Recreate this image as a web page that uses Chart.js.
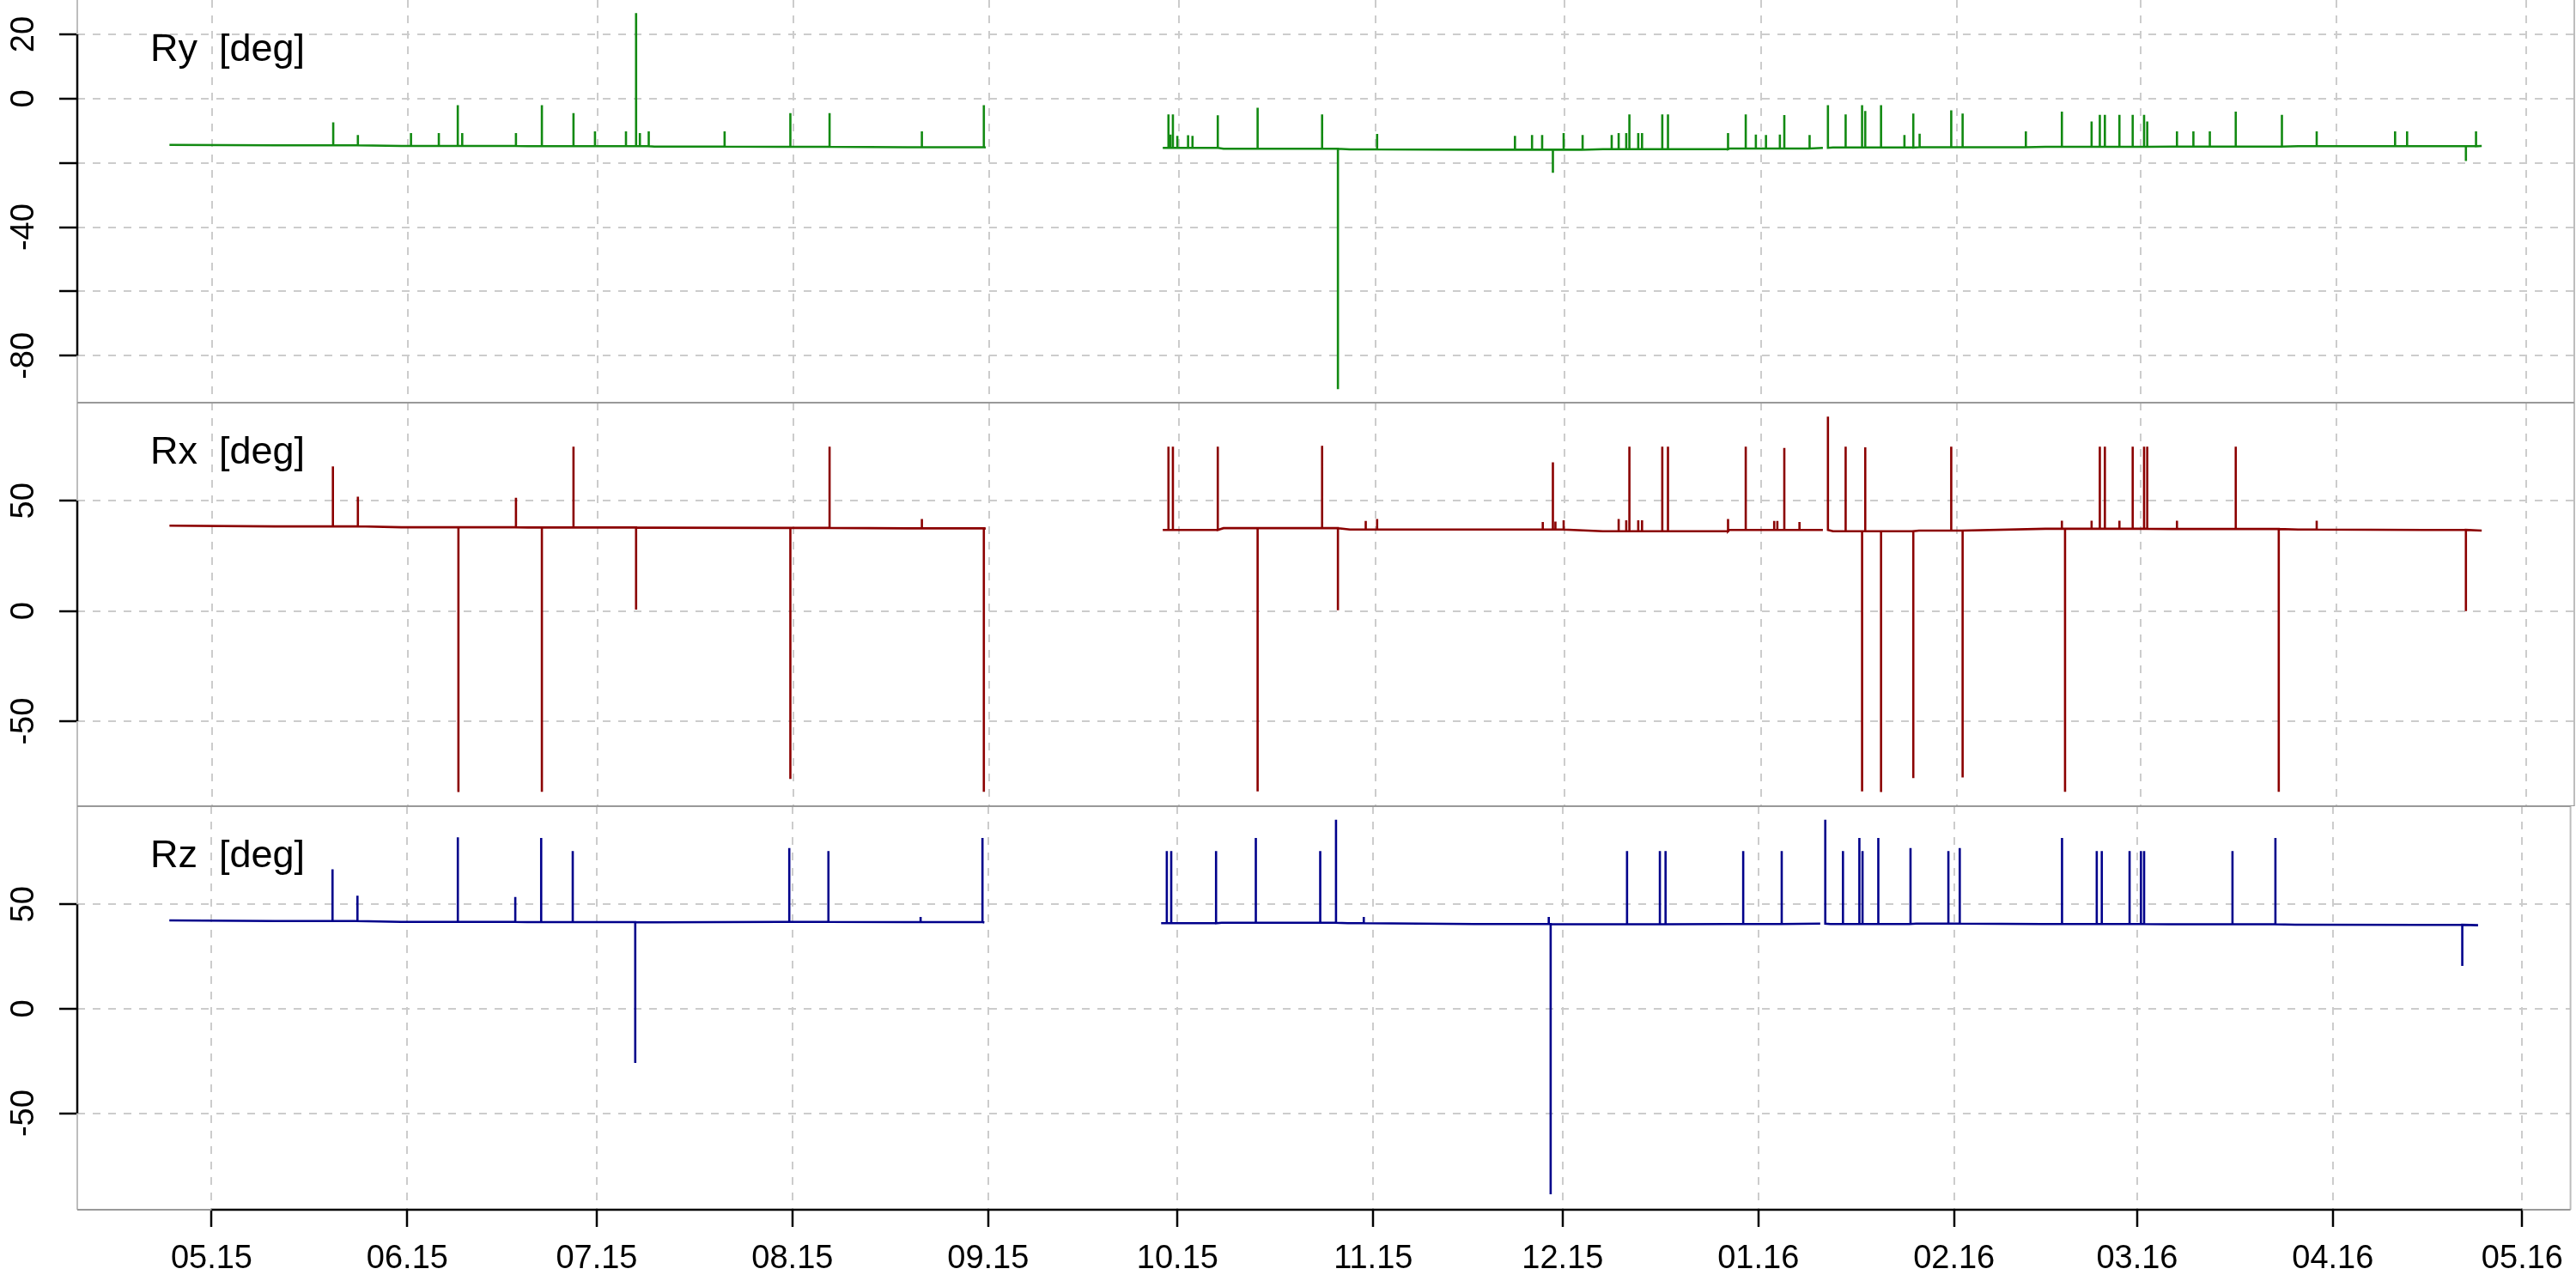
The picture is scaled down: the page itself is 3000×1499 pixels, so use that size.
<!DOCTYPE html>
<html><head><meta charset="utf-8">
<script src="https://cdn.jsdelivr.net/npm/chart.js@4.4.0/dist/chart.umd.min.js"></script>
<style>
html,body{margin:0;padding:0;background:#fff;}
#wrap{position:relative;width:3000px;height:1499px;background:#fff;}
canvas{position:absolute;left:0;}
</style></head><body>
<div id="wrap">
<canvas id="c1" width="3000" height="469" style="top:0px;width:3000px;height:469px"></canvas>
<canvas id="c2" width="3000" height="470" style="top:469px;width:3000px;height:470px"></canvas>
<canvas id="c3" width="3000" height="560" style="top:939px;width:3000px;height:560px"></canvas>
</div>
<script>
// x values are days since 2015-05-01
const monthTickDays   = [0, 31, 61, 92, 123, 153, 184, 214, 245, 276, 305, 336, 366];
const monthTickLabels = ['05.15','06.15','07.15','08.15','09.15','10.15','11.15','12.15','01.16','02.16','03.16','04.16','05.16'];

const ryTicks = [20, 0, -20, -40, -60, -80];
const ryTickLabels = ['20', '0', '', '-40', '', '-80'];
const rxTicks = [50, 0, -50];
const rxTickLabels = ['50', '0', '-50'];
const rzTicks = [50, 0, -50];
const rzTickLabels = ['50', '0', '-50'];

// slowly varying baseline (null = no data)
const baseDays = [-6.7, 10, 30, 50, 70, 90, 110, 122.4, 136, 150.4, 160, 180, 200, 220, 240, 254.8, 255.2, 256.4, 270, 290, 310, 330, 350, 359];
const ryBase = [-14.4, -14.5, -14.7, -14.8, -14.9, -15.0, -15.1, -15.2, null, -15.3, -15.6, -15.8, -15.9, -15.7, -15.5, -15.3, null, -15.2, -15.1, -15.0, -14.9, -14.8, -14.8, -14.7];
const rxBase = [38.7, 38.4, 38.0, 37.9, 37.8, 37.7, 37.5, 37.4, null, 36.8, 37.6, 37.0, 37.0, 36.2, 36.8, 36.8, null, 36.2, 36.5, 37.3, 37.2, 37.0, 36.8, 36.5];
const rzBase = [42.3, 42.0, 41.6, 41.5, 41.4, 41.6, 41.5, 41.3, null, 41.0, 41.2, 41.0, 40.6, 40.5, 40.6, 40.8, null, 40.6, 40.8, 40.6, 40.5, 40.3, 40.2, 40.0];

// single-sample excursions: day and extreme value
const rySpikeDays = [19.2, 23.1, 31.5, 35.9, 38.9, 39.6, 48.1, 52.2, 57.2, 60.6, 65.5, 67.1, 67.7, 69.1, 81.1, 91.5, 97.7, 112.3, 122.1,
  151.3, 151.6, 152.0, 152.7, 154.4, 155.1, 159.1, 165.4, 175.6, 178.1, 184.3, 206.1, 208.8, 210.4, 212.1, 213.8, 216.8, 221.4, 222.5, 223.7, 224.2, 225.6, 226.2, 229.4, 230.3, 239.8, 242.6, 244.2, 245.8, 248.0, 248.7, 252.7, 255.6, 258.4, 261.0, 261.5, 264.0, 267.7, 269.1, 270.1, 275.1, 276.9,
  286.9, 292.6, 297.3, 298.6, 299.4, 301.7, 303.8, 305.6, 306.1, 310.8, 313.4, 316.0, 320.1, 327.4, 332.9, 345.3, 347.2, 356.5, 358.1];
const rySpikeVals = [-7.4, -11.3, -10.7, -10.7, -2.0, -10.7, -10.7, -2.0, -4.5, -10.2, -10.2, 26.6, -10.7, -10.2, -10.2, -4.5, -4.5, -10.2, -2.0,
  -4.9, -11.2, -4.9, -11.6, -11.4, -11.6, -5.2, -2.8, -4.9, -90.4, -11.0, -11.6, -11.3, -11.3, -23.1, -10.7, -11.3, -11.3, -10.7, -10.7, -4.9, -10.7, -10.7, -4.9, -4.9, -10.7, -4.9, -11.2, -11.3, -11.2, -5.1, -11.3, -2.0, -4.9, -2.0, -3.8, -2.0, -11.3, -4.6, -10.9, -3.6, -4.6,
  -10.2, -4.0, -7.1, -5.0, -5.0, -5.0, -5.0, -5.0, -7.1, -10.2, -10.2, -10.2, -4.0, -5.0, -10.2, -10.2, -10.2, -19.4, -10.2];

const rxSpikeDays = [19.15, 23.1, 39.0, 48.1, 52.2, 57.2, 67.1, 91.5, 97.7, 112.3, 122.1,
  151.3, 152.0, 159.1, 165.4, 175.6, 178.1, 182.5, 184.3, 210.5, 212.1, 212.5, 213.8, 222.5, 223.7, 224.2, 225.6, 226.2, 229.4, 230.3, 239.8, 242.6, 247.1, 247.6, 248.7, 251.1, 255.6, 258.4, 261.0, 261.5, 264.0, 269.1, 275.1, 276.9,
  292.6, 293.1, 297.3, 298.6, 299.4, 301.7, 303.8, 305.6, 306.1, 310.8, 320.1, 326.9, 332.9, 356.5];
const rxSpikeVals = [65.6, 51.9, -82.1, 51.4, -82.0, 74.5, 0.7, -76.1, 74.5, 41.7, -82.0,
  74.5, 74.5, 74.5, -81.8, 74.9, 0.4, 40.9, 41.7, 40.4, 67.4, 40.6, 41.2, 41.7, 41.2, 74.5, 41.2, 41.2, 74.5, 74.5, 41.7, 74.5, 40.9, 40.9, 74.0, 40.4, 88.2, 74.5, -81.8, 74.3, -82.1, -75.7, 74.5, -75.5,
  41.0, -82.0, 41.0, 74.5, 74.5, 41.0, 74.5, 74.5, 74.5, 41.0, 74.5, -82.0, 41.0, 0.0];

const rzSpikeDays = [19.15, 23.1, 39.0, 48.1, 52.2, 57.2, 67.1, 91.5, 97.7, 112.3, 122.1,
  151.3, 152.0, 159.1, 165.4, 175.6, 178.1, 182.5, 211.8, 212.1, 224.2, 229.4, 230.3, 242.6, 248.7, 255.6, 258.4, 261.0, 261.5, 264.0, 269.1, 275.1, 276.9,
  293.1, 298.6, 299.4, 303.8, 305.6, 306.1, 320.1, 326.9, 356.5];
const rzSpikeVals = [66.8, 54.1, 82.1, 53.5, 81.8, 75.5, -25.9, 77.0, 75.5, 44.0, 81.8,
  75.5, 75.5, 75.5, 81.8, 75.5, 90.5, 44.0, 44.0, -88.8, 75.5, 75.5, 75.5, 75.5, 75.5, 90.5, 75.5, 81.8, 75.5, 81.8, 77.0, 75.5, 77.0,
  81.8, 75.5, 75.5, 75.5, 75.5, 75.5, 75.5, 81.8, 20.5];

const xMin = -21.28, xMax = 373.64;
const FONT = '"Liberation Sans", Arial, Helvetica, sans-serif';
const gridColor = '#cccccc';

function buildSeries(bDays, bVals, sDays, sVals) {
  const pts = [];
  bDays.forEach((d, i) => pts.push({x: d, y: bVals[i], k: 0}));
  sDays.forEach((d, i) => pts.push({x: d, y: sVals[i], k: 1}));
  pts.sort((a, b) => (a.x - b.x) || (a.k - b.k));
  const out = [];
  let foot = bVals.find(v => v !== null);
  for (const p of pts) {
    if (p.k === 0) { out.push({x: p.x, y: p.y}); if (p.y !== null) foot = p.y; }
    else { out.push({x: p.x, y: foot}, {x: p.x, y: p.y}, {x: p.x, y: foot}); }
  }
  return out;
}

function framePlugin(title, yLabels, isTop, isBottom) {
  return {
    id: 'frame',
    afterDraw(chart) {
      const ctx = chart.ctx, a = chart.chartArea, ys = chart.scales.y, xs = chart.scales.x;
      ctx.save();
      // box
      ctx.lineWidth = 2;
      ctx.strokeStyle = '#bdbdbd';
      ctx.beginPath();
      ctx.moveTo(a.left, a.top); ctx.lineTo(a.left, a.bottom);
      ctx.moveTo(a.right, a.top); ctx.lineTo(a.right, a.bottom);
      ctx.stroke();
      ctx.strokeStyle = '#999999';
      ctx.beginPath();
      if (!isTop) { ctx.moveTo(a.left, a.top); ctx.lineTo(a.right, a.top); }
      ctx.moveTo(a.left, a.bottom); ctx.lineTo(a.right, a.bottom);
      ctx.stroke();
      // y axis line over tick range
      const t = ys.ticks.map(k => ys.getPixelForValue(k.value));
      ctx.strokeStyle = '#000'; ctx.lineWidth = 2.5;
      ctx.beginPath();
      ctx.moveTo(a.left, Math.min(...t)); ctx.lineTo(a.left, Math.max(...t));
      ctx.stroke();
      // y tick labels, rotated
      ctx.fillStyle = '#000';
      ctx.font = '38px ' + FONT;
      ctx.textAlign = 'center'; ctx.textBaseline = 'middle';
      ys.ticks.forEach((k, i) => {
        const lab = yLabels[i];
        if (!lab) return;
        ctx.save();
        ctx.translate(29, ys.getPixelForValue(k.value));
        ctx.rotate(-Math.PI / 2);
        ctx.fillText(lab, 0, 0);
        ctx.restore();
      });
      // x axis line over tick range
      if (isBottom) {
        const xp = xs.ticks.map(k => xs.getPixelForValue(k.value));
        ctx.beginPath();
        ctx.moveTo(Math.min(...xp), a.bottom); ctx.lineTo(Math.max(...xp), a.bottom);
        ctx.stroke();
      }
      // panel title
      ctx.textAlign = 'left'; ctx.textBaseline = 'alphabetic';
      ctx.font = '45px ' + FONT;
      ctx.fillText(title, 175, a.top + 71);
      ctx.restore();
    }
  };
}

function makeChart(id, data, color, yMin, yMax, yTicks, yLabels, title, isTop, isBottom) {
  return new Chart(document.getElementById(id), {
    type: 'line',
    data: {datasets: [{data, borderColor: color, borderWidth: 2.6, pointRadius: 0, tension: 0, spanGaps: false, fill: false}]},
    options: {
      responsive: false, animation: false, devicePixelRatio: 1,
      layout: {padding: {left: 0, right: 2, top: 0, bottom: 0}},
      plugins: {legend: {display: false}, tooltip: {enabled: false}},
      scales: {
        x: {
          type: 'linear', min: xMin, max: xMax,
          afterBuildTicks: s => { s.ticks = monthTickDays.map(v => ({value: v})); },
          afterFit: s => { s.height = isBottom ? 90 : 0; },
          grid: {color: gridColor, lineWidth: 2, drawTicks: isBottom, tickLength: 20, tickColor: '#000', tickWidth: 2.5},
          border: {display: false, dash: [9, 9]},
          ticks: {display: isBottom, autoSkip: false, maxRotation: 0, minRotation: 0, padding: 15, color: '#000',
                  font: {family: FONT, size: 38}, callback: (v, i) => monthTickLabels[i]}
        },
        y: {
          type: 'linear', min: yMin, max: yMax,
          afterBuildTicks: s => { s.ticks = yTicks.map(v => ({value: v})); },
          afterFit: s => { s.width = 90; },
          grid: {color: gridColor, lineWidth: 2, drawTicks: true, tickLength: 21, tickColor: '#000', tickWidth: 2.5},
          border: {display: false, dash: [9, 9]},
          ticks: {display: false}
        }
      }
    },
    plugins: [framePlugin(title, yLabels, isTop, isBottom)]
  });
}

makeChart('c1', buildSeries(baseDays, ryBase, rySpikeDays, rySpikeVals), '#128a12', -94.6, 30.7, ryTicks, ryTickLabels, 'Ry  [deg]', true, false);
makeChart('c2', buildSeries(baseDays, rxBase, rxSpikeDays, rxSpikeVals), '#8b0000', -88.5, 94.5, rxTicks, rxTickLabels, 'Rx  [deg]', false, false);
makeChart('c3', buildSeries(baseDays, rzBase, rzSpikeDays, rzSpikeVals), '#00008b', -96.2, 97.0, rzTicks, rzTickLabels, 'Rz  [deg]', false, true);
</script>
</body></html>
